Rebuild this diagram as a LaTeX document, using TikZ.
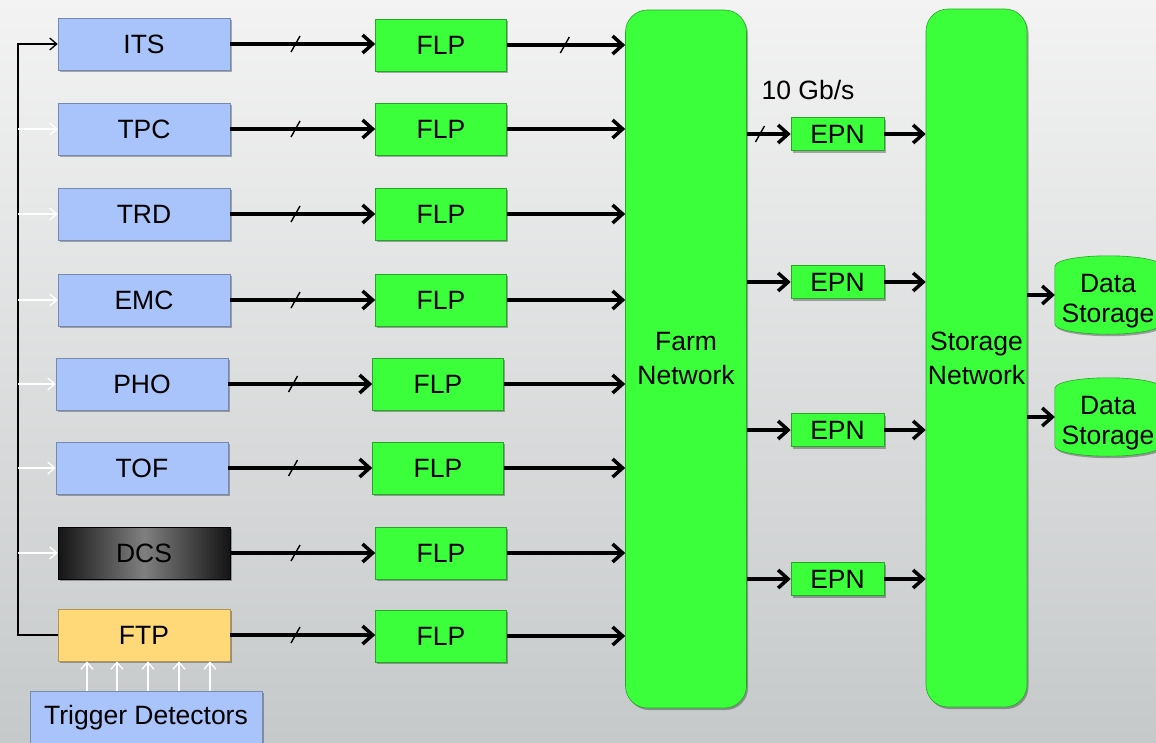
\documentclass[tikz,border=0pt]{standalone}
\usepackage{fontspec}
\setmainfont{Liberation Sans}
\usetikzlibrary{arrows.meta,shadows,decorations.markings}

\definecolor{detblue}{HTML}{A9C4FA}
\definecolor{flpgreen}{HTML}{3BFF3B}
\definecolor{ftpyellow}{HTML}{FFD877}
\definecolor{bgtop}{HTML}{F3F3F3}
\definecolor{bgbottom}{HTML}{C6C9CA}

\tikzset{
  boxshadow/.style={drop shadow={shadow xshift=1.5pt, shadow yshift=-2pt, opacity=0.3, fill=black}},
  det/.style={rectangle, fill=detblue, draw=detblue!70!black, line width=0.6pt,
    minimum width=172pt, minimum height=52pt, inner sep=0pt, boxshadow},
  dcsbox/.style={shading=axis, left color=black!92, right color=black!92, middle color=black!50,
    draw=black, shading angle=90},
  ftpbox/.style={fill=ftpyellow, draw=ftpyellow!70!black},
  flp/.style={rectangle, fill=flpgreen, draw=flpgreen!65!black, line width=0.6pt,
    minimum width=131pt, minimum height=52pt, inner sep=0pt, boxshadow},
  epn/.style={flp, minimum width=93pt, minimum height=33pt},
  net/.style={rectangle, rounded corners=22pt, fill=flpgreen, draw=flpgreen!65!black, line width=0.6pt,
    minimum height=698pt, inner sep=0pt, align=center, boxshadow},
  dsbox/.style={rectangle, minimum width=106pt, minimum height=78pt, inner sep=0pt},
  cyl/.style={fill=flpgreen, draw=flpgreen!65!black, line width=0.6pt, boxshadow},
  flow/.style={line width=3.5pt, -{Straight Barb[length=10pt,width=18pt]}},
  ctrl/.style={line width=1.3pt, -{Straight Barb[length=7pt,width=12pt]}},
  ctrlw/.style={ctrl, white},
  cut/.style={postaction={decorate, decoration={markings,
    mark=at position #1 with {\draw[line width=1.4pt, black, -] (-4.5pt,-8pt) -- (4.5pt,8pt);}}}}
}

\begin{document}
\begin{tikzpicture}[x=1pt, y=-1pt, font=\fontsize{26.5}{34}\selectfont]
  % backdrop
  \shade[top color=bgtop, bottom color=bgbottom] (0,0) rectangle (1156,742);
  \useasboundingbox (0,0) rectangle (1156,742);

  % detector front-ends
  \node[det] (its) at (144,44)  {ITS};
  \node[det] (tpc) at (144,129) {TPC};
  \node[det] (trd) at (144,214) {TRD};
  \node[det] (emc) at (144,300) {EMC};
  \node[det] (pho) at (142,384) {PHO};
  \node[det] (tof) at (142,468) {TOF};
  \node[det, dcsbox] (dcs) at (144,553) {DCS};
  \node[det, ftpbox] (ftp) at (144,635) {FTP};
  \node[det, minimum width=232pt, minimum height=54pt] (trig) at (146,718) {Trigger Detectors};

  % first level processors
  \node[flp] (f1) at (441,45)  {FLP};
  \node[flp] (f2) at (441,129) {FLP};
  \node[flp] (f3) at (441,214) {FLP};
  \node[flp] (f4) at (441,300) {FLP};
  \node[flp] (f5) at (438,384) {FLP};
  \node[flp] (f6) at (438,468) {FLP};
  \node[flp] (f7) at (441,553) {FLP};
  \node[flp] (f8) at (441,636) {FLP};

  % networks
  \node[net, minimum width=121pt] (farm) at (686,359) {Farm\\Network};
  \node[net, minimum width=101pt] (stor) at (976.5,358) {Storage\\Network};

  % event processing nodes
  \node[epn] (e1) at (837.5,134) {EPN};
  \node[epn] (e2) at (837.5,282) {EPN};
  \node[epn] (e3) at (837.5,430) {EPN};
  \node[epn] (e4) at (837.5,579) {EPN};
  \node (rate) at (808,90) {10 Gb/s};

  % data storage drums
  \foreach \n/\y in {ds1/295, ds2/417} {
    \node[dsbox] (\n) at (1108,\y) {};
    \filldraw[cyl] ([yshift=-10pt]\n.north west) -- ([yshift=10pt]\n.south west)
      arc[start angle=180, end angle=360, x radius=53pt, y radius=10pt]
      -- ([yshift=-10pt]\n.north east)
      arc[start angle=0, end angle=180, x radius=53pt, y radius=10pt] -- cycle;
    \node[align=center, font=\fontsize{26.5}{30}\selectfont] at ([yshift=-6pt]\n.center) {Data\\Storage};
  }

  % detector to FLP links
  \foreach \d/\f in {its/f1, tpc/f2, trd/f3, emc/f4, pho/f5, tof/f6, dcs/f7, ftp/f8}
    \draw[flow, cut=0.45] (\d.east) -- (\d.east -| \f.west);

  % FLP to farm network
  \draw[flow, cut=0.49] (f1.east) -- (f1.east -| farm.west);
  \foreach \f in {f2,f3,f4,f5,f6,f7,f8}
    \draw[flow] (\f.east) -- (\f.east -| farm.west);

  % farm network to EPNs to storage network
  \draw[flow, cut=0.3] (e1.west -| farm.east) -- (e1.west);
  \foreach \e in {e2,e3,e4}
    \draw[flow] (\e.west -| farm.east) -- (\e.west);
  \foreach \e in {e1,e2,e3,e4}
    \draw[flow] (\e.east) -- (\e.east -| stor.west);

  % storage network to data storage
  \draw[flow] (ds1.west -| stor.east) -- (ds1.west);
  \draw[flow] (ds2.west -| stor.east) -- (ds2.west);

  % trigger/control distribution
  \coordinate (bus) at (18,44);
  \draw[ctrl] (ftp.west) -| (bus) -- (its.west);
  \foreach \d in {tpc,trd,emc,pho,tof,dcs}
    \draw[ctrlw] (\d.west -| bus) -- (\d.west);
  \foreach \dx in {-59,-29,2,33,64}
    \draw[ctrlw] ([xshift=\dx pt]trig.north) coordinate (s) -- (s |- ftp.south);
\end{tikzpicture}
\end{document}
